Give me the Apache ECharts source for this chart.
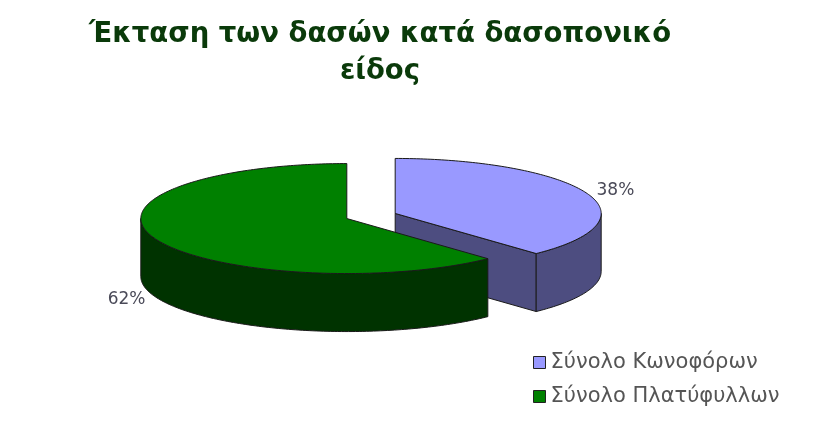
<!DOCTYPE html>
<html>
<head>
<meta charset="utf-8">
<script src="https://cdn.jsdelivr.net/npm/echarts@6/dist/echarts.min.js"></script>
<style>
html,body{margin:0;padding:0;background:#fff;}
#chart{width:836px;height:429px;}
</style>
</head>
<body>
<div id="chart"></div>
<script>
// ---- data ----
const titleLines = ['Έκταση των δασών κατά δασοπονικό', 'είδος'];
const categories = ['Σύνολο Κωνοφόρων', 'Σύνολο Πλατύφυλλων'];
const shares = [38, 62];

// ---- derived ----
const total = shares.reduce((a, b) => a + b, 0);
const starts = [];
let acc = 0;
shares.forEach(v => { starts.push(acc); acc += v; });

const topColors = ['#9999FF', '#008000'];
const sideColors = ['#4D4D80', '#003300'];

const geo = { cx: 371, cy: 216, rx: 206, ry: 55, depth: 58, explode: 26 };
const RAD = Math.PI / 180;

function renderSlice(params, api) {
  const i = params.seriesIndex;
  const v = api.value(0);
  const a0 = 90 - starts[i] / total * 360;
  const a1 = a0 - v / total * 360;
  const mid = (a0 + a1) / 2;
  const { rx, ry, depth, explode } = geo;
  const cx = geo.cx + explode * Math.cos(mid * RAD);
  const cy = geo.cy - explode * Math.sin(mid * RAD) * ry / rx;
  const P = (deg, dz) => [cx + rx * Math.cos(deg * RAD), cy - ry * Math.sin(deg * RAD) + (dz || 0)];
  const arc = (from, to, dz) => {
    const pts = [];
    const n = Math.max(2, Math.ceil(Math.abs(to - from)));
    for (let k = 0; k <= n; k++) pts.push(P(from + (to - from) * k / n, dz));
    return pts;
  };
  const stroke = { stroke: '#1a1a1a', lineWidth: 1, lineJoin: 'round' };
  const children = [];
  // radial walls
  const radial = (deg) => {
    const e = P(deg, 0), eb = P(deg, depth);
    return {
      type: 'polygon',
      shape: { points: [[cx, cy], e, eb, [cx, cy + depth]] },
      style: Object.assign({ fill: sideColors[i] }, stroke)
    };
  };
  if (Math.cos(a0 * RAD) < -1e-6) children.push(radial(a0));
  if (Math.cos(a1 * RAD) > 1e-6) children.push(radial(a1));
  // outer curved wall (front half)
  for (let k = -2; k <= 1; k++) {
    const lo = Math.max(a1, -180 + k * 360);
    const hi = Math.min(a0, 0 + k * 360);
    if (hi - lo > 0.01) {
      const topPts = arc(hi, lo, 0);
      const botPts = arc(lo, hi, depth);
      children.push({
        type: 'polygon',
        shape: { points: topPts.concat(botPts) },
        style: Object.assign({ fill: sideColors[i] }, stroke)
      });
    }
  }
  // top face
  children.push({
    type: 'polygon',
    shape: { points: [[cx, cy]].concat(arc(a0, a1, 0)) },
    style: Object.assign({ fill: topColors[i] }, stroke)
  });
  // label
  const s = Math.sin(mid * RAD);
  children.push({
    type: 'text',
    style: {
      text: Math.round(v / total * 100) + '%',
      x: cx + rx * 1.15 * Math.cos(mid * RAD),
      y: cy - ry * 1.15 * s + (s < 0 ? depth : 0),
      align: 'center',
      verticalAlign: 'middle',
      fill: '#4a4a58',
      fontSize: 17,
      fontFamily: 'DejaVu Sans'
    }
  });
  return { type: 'group', children };
}

const chart = echarts.init(document.getElementById('chart'), null, { renderer: 'canvas' });
chart.setOption({
  backgroundColor: '#ffffff',
  animation: false,
  title: {
    text: titleLines.join('\n'),
    left: 375,
    top: 11,
    textAlign: 'center',
    textStyle: {
      fontFamily: 'DejaVu Sans',
      fontWeight: 'bold',
      fontSize: 27.5,
      lineHeight: 37,
      color: '#0a3a0a'
    }
  },
  legend: {
    orient: 'vertical',
    left: 528,
    top: 347,
    icon: 'rect',
    itemWidth: 12,
    itemHeight: 12,
    itemGap: 13,
    itemStyle: { borderColor: '#222', borderWidth: 1 },
    textStyle: { fontFamily: 'DejaVu Sans', fontSize: 21, color: '#555' },
    data: categories
  },
  series: categories.map((name, i) => ({
    type: 'custom',
    name: name,
    coordinateSystem: 'none',
    itemStyle: { color: topColors[i] },
    renderItem: renderSlice,
    data: [[shares[i]]]
  }))
});
</script>
</body>
</html>
